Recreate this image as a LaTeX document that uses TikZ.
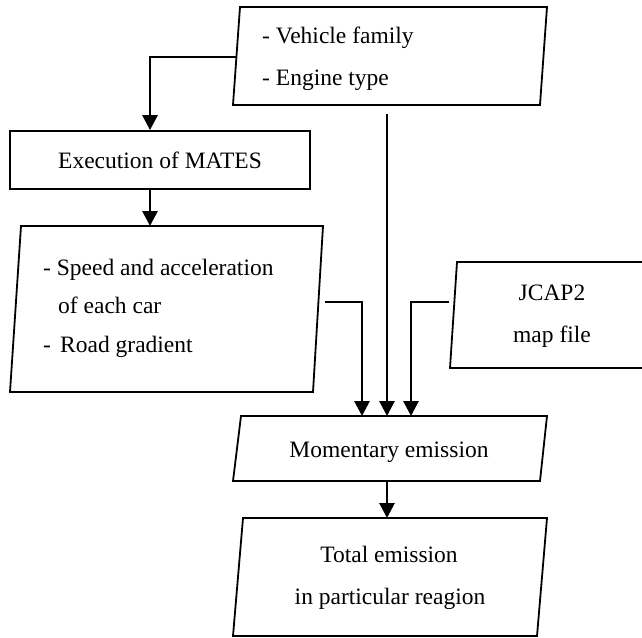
\documentclass[tikz,border=0pt]{standalone}
\usepackage{fontspec}
\setmainfont{Liberation Serif}
\usetikzlibrary{arrows.meta}
\begin{document}
\begin{tikzpicture}[x=1pt,y=-1pt,
  box/.style={draw, line width=1.8pt, line join=miter},
  conn/.style={line width=2.8pt, -{Triangle[length=15pt,width=15pt]}},
  txt/.style={font=\fontsize{23.5}{28}\selectfont, inner sep=0pt}]
\useasboundingbox (0,0) rectangle (642,637);

% input: vehicle family / engine type
\draw[box] (240,7) -- (547,7) -- (540,105) -- (233,105) -- cycle;
\node[txt, anchor=mid west] (vf) at (262,41.5) {- Vehicle family};
\node[txt, anchor=mid west] (et) at (262,83) {- Engine type};
\coordinate (vfOutL) at (236.5,57);
\coordinate (vfOutB) at (387,114);

% MATES simulation
\node[box, minimum width=300pt, minimum height=58pt, inner sep=0pt,
      font=\fontsize{23.5}{28}\selectfont] (mates) at (160,160) {Execution of MATES};

% simulation output
\draw[box] (21,226) -- (323,226) -- (313,392) -- (10,392) -- cycle;
\node[txt, anchor=mid west] (sp1) at (43,273) {- Speed and acceleration};
\node[txt, anchor=mid west] (sp2) at (58,311) {of each car};
\node[txt, anchor=mid west] (sp3) at (43,350) {-};
\node[txt, anchor=mid west] (sp4) at (60,350) {Road gradient};
\coordinate (spIn) at (150,226);
\coordinate (spOut) at (325,302);

% map data
\draw[box] (648,262) -- (457,262) -- (450,368) -- (648,368);
\node[txt, anchor=mid] (jc1) at (552,298) {JCAP2};
\node[txt, anchor=mid] (jc2) at (552,340) {map file};
\coordinate (jcOut) at (449,302);

% momentary emission
\draw[box] (241,416) -- (547,416) -- (540,481) -- (233,481) -- cycle;
\node[txt, anchor=mid] (me) at (389,455) {Momentary emission};
\coordinate (meInL) at (362,416);
\coordinate (meInM) at (387,416);
\coordinate (meInR) at (411,416);
\coordinate (meOut) at (387,481);

% total emission
\draw[box] (243,518) -- (547,518) -- (537,636) -- (233,636) -- cycle;
\node[txt, anchor=mid] (te1) at (389,560) {Total emission};
\node[txt, anchor=mid] (te2) at (390,602) {in particular reagion};
\coordinate (teIn) at (387,518);

% connectors
\draw[conn] (vfOutL) -| ([xshift=-10pt]mates.north);
\draw[conn] ([xshift=-10pt]mates.south) -- (spIn);
\draw[conn] (vfOutB) -- (meInM);
\draw[conn] (spOut) -| (meInL);
\draw[conn] (jcOut) -| (meInR);
\draw[conn] (meOut) -- (teIn);
\end{tikzpicture}
\end{document}
